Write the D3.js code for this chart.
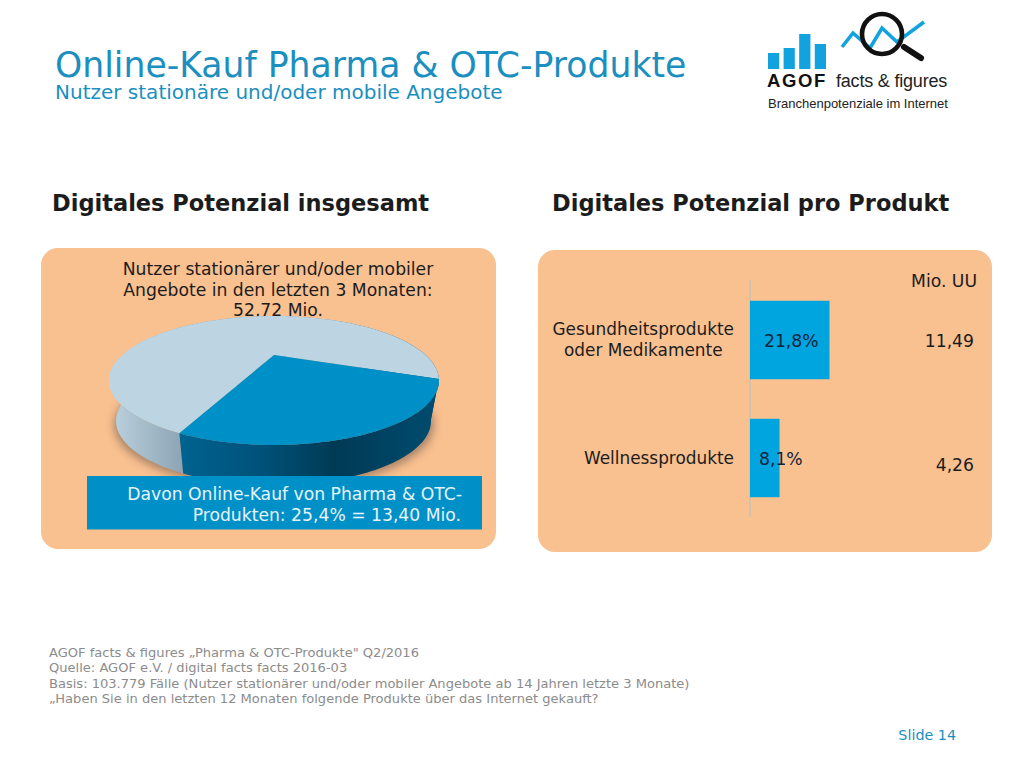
<!DOCTYPE html>
<html>
<head>
<meta charset="utf-8">
<script src="https://cdnjs.cloudflare.com/ajax/libs/d3/7.8.5/d3.min.js"></script>
<style>
  html, body { margin: 0; padding: 0; background: #fff; }
  svg { display: block; }
  text { font-family: "DejaVu Sans", sans-serif; }
  .logo text { font-family: "Liberation Sans", sans-serif; }
</style>
</head>
<body>
<div id="chart"></div>
<script>
const w = 1024;
const h = 768;

// pie: share of online buyers among all users
const pieLabels = ['Online-Kauf', 'Kein Online-Kauf'];
const pieShares = [25.4, 74.6];

// bars
const products = ['Gesundheitsprodukte', 'Wellnessprodukte'];
const productLines = [['Gesundheitsprodukte', 'oder Medikamente'], ['Wellnessprodukte']];
const productShares = [21.8, 8.1];
const productUU = [11.49, 4.26];

const footerLines = [
  'AGOF facts & figures „Pharma & OTC-Produkte" Q2/2016',
  'Quelle: AGOF e.V. / digital facts facts 2016-03',
  'Basis: 103.779 Fälle (Nutzer stationärer und/oder mobiler Angebote ab 14 Jahren letzte 3 Monate)',
  '„Haben Sie in den letzten 12 Monaten folgende Produkte über das Internet gekauft?'
];

const logoBars = [16, 21, 35, 25];
const logoTrend = [22, 36, 21, 41, 27, 47];
const logoTrendX = [0, 0.67, 1.71, 2.44, 3.35, 5];

const BLUE = '#1b8fc0';
const PANEL = '#f9c090';
const TEXT = '#1c1c1c';
const BODY = 17.2;

const locale = d3.formatLocale({ decimal: ',', thousands: '.', grouping: [3], currency: ['', '€'] });
const fmtShare = locale.format('.1f');
const fmtUU = locale.format('.2f');

const svg = d3.select('#chart').append('svg').attr('width', w).attr('height', h);
const defs = svg.append('defs');

const addText = (parent, str, x, y, size, fill, anchor = 'start') =>
  parent.append('text')
    .attr('x', x).attr('y', y)
    .attr('font-size', size)
    .attr('fill', fill)
    .attr('text-anchor', anchor)
    .text(str);

// header
addText(svg, 'Online-Kauf Pharma & OTC-Produkte', 55, 77, 34.65, BLUE);
addText(svg, 'Nutzer stationäre und/oder mobile Angebote', 55, 99, 20, BLUE);

addText(svg, 'Digitales Potenzial insgesamt', 52, 211, 22.5, TEXT).attr('font-weight', 'bold');
addText(svg, 'Digitales Potenzial pro Produkt', 552, 211, 22.5, TEXT).attr('font-weight', 'bold');

// panels
svg.append('rect').attr('x', 41).attr('y', 248).attr('width', 455).attr('height', 301).attr('rx', 17).attr('fill', PANEL);
svg.append('rect').attr('x', 538).attr('y', 250).attr('width', 454).attr('height', 302).attr('rx', 17).attr('fill', PANEL);

// left panel text sits under the pie
['Nutzer stationärer und/oder mobiler', 'Angebote in den letzten 3 Monaten:', '52,72 Mio.'].forEach((line, i) => {
  addText(svg, line, 278, 275 + i * 20.6, BODY, TEXT, 'middle');
});

// pie, tilted: the centre of the disc sits behind the centre of the ellipse
const TILT = -0.395;
const topX = d3.scaleLinear().domain([-1, 1]).range([109, 439]);
const topY = d3.scaleLinear().domain([-1, 1]).range([316, 445]);
const baseX = d3.scaleLinear().domain([-1, 1]).range([116, 431]);
const baseY = d3.scaleLinear().domain([-1, 1]).range([357, 485]);

const tilt = (u, v) => {
  const den = 1 + TILT * v;
  return [u * Math.sqrt(1 - TILT * TILT) / den, (v + TILT) / den];
};
const project = (a, r, sx, sy) => {
  const [u, v] = tilt(Math.sin(a) * r, -Math.cos(a) * r);
  return [sx(u), sy(v)];
};
const arcAngles = (d) => d3.range(0, 81).map((i) => d.startAngle + (d.endAngle - d.startAngle) * i / 80);
const line = d3.line();

const pie = d3.pie().sort(null).startAngle(Math.PI * 112 / 180).endAngle(Math.PI * 112 / 180 + 2 * Math.PI);
const slices = pie(pieShares);

const addGradient = (id, stops) => {
  const g = defs.append('linearGradient').attr('id', id)
    .attr('gradientUnits', 'userSpaceOnUse')
    .attr('x1', 110).attr('x2', 440).attr('y1', 0).attr('y2', 0);
  stops.forEach(([o, c]) => g.append('stop').attr('offset', o).attr('stop-color', c));
};
addGradient('wall0', [[0.22, '#00628f'], [0.45, '#00527a'], [0.68, '#003a55'], [1, '#004c70']]);
// the far end of the light wall peeks out next to the dark one, so it fades into it
addGradient('wall1', [[0, '#bdd2df'], [0.23, '#8aa2b3'], [0.6, '#8aa2b3'], [0.9, '#004c70']]);

defs.append('filter').attr('id', 'soft').attr('x', '-10%').attr('y', '-20%').attr('width', '120%').attr('height', '140%')
  .append('feGaussianBlur').attr('stdDeviation', 4);

svg.append('ellipse')
  .attr('cx', 274).attr('cy', 425).attr('rx', 160).attr('ry', 64)
  .attr('fill', '#5a4a3c').attr('opacity', 0.5)
  .attr('filter', 'url(#soft)');

const pieG = svg.append('g').attr('class', 'pie');
const TOP_COLORS = ['#0090c8', '#bdd5e3'];

pieG.selectAll('path.wall').data(slices.slice().reverse()).join('path')
  .attr('class', 'wall')
  .attr('fill', (d) => `url(#wall${d.index})`)
  .attr('d', (d) => {
    const angles = arcAngles(d);
    const upper = angles.map((a) => project(a, 1, topX, topY));
    const lower = angles.slice().reverse().map((a) => project(a, 1, baseX, baseY));
    return line(upper.concat(lower)) + 'Z';
  });

// big slice first so the small one lies on top
pieG.selectAll('path.top').data(slices.slice().reverse()).join('path')
  .attr('class', 'top')
  .attr('fill', (d) => TOP_COLORS[d.index])
  .attr('d', (d) => {
    const pts = arcAngles(d).map((a) => project(a, 1, topX, topY));
    return line([project(0, 0, topX, topY)].concat(pts)) + 'Z';
  })
  .append('title').text((d) => pieLabels[d.index]);

// caption box over the pie
svg.append('rect').attr('x', 87).attr('y', 476).attr('width', 395).attr('height', 53.5).attr('fill', '#0090c8');
addText(svg, 'Davon Online-Kauf von Pharma & OTC-', 462, 500, BODY, '#e6f3f8', 'end');
addText(svg, `Produkten: ${fmtShare(pieShares[0])}% = 13,40 Mio.`, 461, 520.5, BODY, '#e6f3f8', 'end');

// bars
const x = d3.scaleLinear().domain([0, 21.8]).range([750, 829.5]);
const y = d3.scaleBand().domain(products).range([281, 517]).paddingInner(0.335).paddingOuter(0.1675);

svg.append('line')
  .attr('x1', x(0)).attr('x2', x(0))
  .attr('y1', 280).attr('y2', 517)
  .attr('stroke', '#b9c4bf').attr('stroke-width', 1.2);

svg.selectAll('rect.bar').data(productShares).join('rect')
  .attr('class', 'bar')
  .attr('x', x(0))
  .attr('y', (d, i) => y(products[i]))
  .attr('width', (d) => x(d) - x(0))
  .attr('height', y.bandwidth())
  .attr('fill', '#00a5e0');

const LABEL_RIGHT = 734;
const labelInset = [14, 9];
const uuNudge = [7, 13];
const labelNudge = [-5, 6];

productLines.forEach((lines, i) => {
  const mid = y(products[i]) + y.bandwidth() / 2;
  const g = svg.append('g');
  const nodes = lines.map((str, j) => addText(g, str, 0, mid + labelNudge[i] + j * 20.7, 16.9, TEXT, 'middle'));
  const widest = d3.max(nodes, (n) => n.node().getComputedTextLength());
  nodes.forEach((n) => n.attr('x', LABEL_RIGHT - widest / 2));

  addText(svg, `${fmtShare(productShares[i])}%`, x(0) + labelInset[i], mid + 7, BODY, '#10243a');
  addText(svg, fmtUU(productUU[i]), 974, mid + uuNudge[i], BODY, TEXT, 'end');
});
addText(svg, 'Mio. UU', 977, 287, BODY, TEXT, 'end');

// footer
footerLines.forEach((str, i) => {
  addText(svg, str, 49, 657 + i * 15.4, 13.05, '#8c8c8c');
});
addText(svg, 'Slide 14', 956, 740, 14.3, BLUE, 'end');

// logo
const logo = svg.append('g').attr('class', 'logo');
const logoX = d3.scaleBand().domain(d3.range(logoBars.length)).range([768, 826]).paddingInner(0.28);
const logoY = d3.scaleLinear().domain([0, 35]).range([69, 34]);
logo.selectAll('rect').data(logoBars).join('rect')
  .attr('x', (d, i) => logoX(i))
  .attr('y', (d) => logoY(d))
  .attr('width', logoX.bandwidth())
  .attr('height', (d) => logoY(0) - logoY(d))
  .attr('fill', '#12a3de');

const trendX = d3.scaleLinear().domain([0, 5]).range([842, 924]);
logo.append('path')
  .attr('d', d3.line().x((d, i) => trendX(logoTrendX[i])).y((d) => logoY(d))(logoTrend))
  .attr('fill', 'none').attr('stroke', '#12a3de').attr('stroke-width', 3.6);
logo.append('circle').attr('cx', 882).attr('cy', 34).attr('r', 20)
  .attr('fill', 'none').attr('stroke', '#111').attr('stroke-width', 4.6);
logo.append('line').attr('x1', 904).attr('y1', 47).attr('x2', 921).attr('y2', 58)
  .attr('stroke', '#111').attr('stroke-width', 6).attr('stroke-linecap', 'round');

addText(logo, 'AGOF', 767, 87, 18.5, '#111').attr('font-weight', 'bold').attr('letter-spacing', 1.6);
addText(logo, 'facts & figures', 836, 87, 18, '#222').attr('letter-spacing', -0.2);
addText(logo, 'Branchenpotenziale im Internet', 768, 108, 13, '#222');
</script>
</body>
</html>
